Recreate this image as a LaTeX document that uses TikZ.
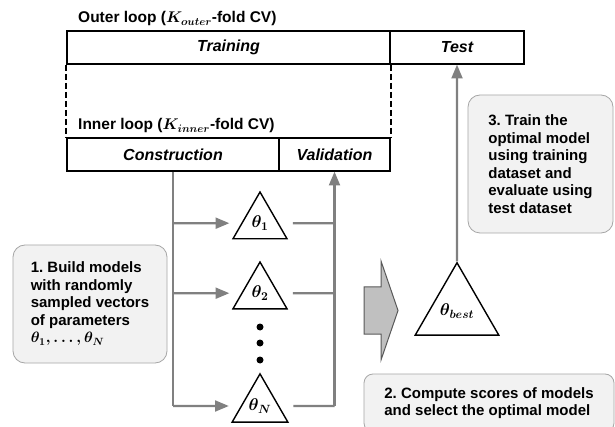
\documentclass[tikz,border=0pt]{standalone}
\usepackage{fix-cm}
\usepackage{amsmath}
\usepackage[no-math]{fontspec}
\setmainfont{Liberation Sans}
\usetikzlibrary{arrows,shapes.geometric}
\definecolor{CVGris}{RGB}{128,128,128}
\definecolor{CVFond}{RGB}{242,242,242}
\definecolor{CVBord}{RGB}{166,166,166}
\definecolor{CVFleche}{RGB}{192,192,192}
\frenchspacing

\begin{document}
\begin{tikzpicture}[x=1pt,y=-1pt,
	cell/.style={draw, line width=1.6pt, minimum height=33pt, inner sep=0pt, font=\fontsize{16}{18}\selectfont\bfseries\itshape},
	model/.style={draw, line width=1.4pt, regular polygon, regular polygon sides=3, inner sep=0pt, font=\fontsize{17}{20}\selectfont\boldmath},
	flow/.style={draw=CVGris, line width=2.2pt},
	note/.style={draw=CVBord, fill=CVFond, line width=0.8pt, rounded corners=12pt, align=left, font=\fontsize{15}{17.5}\selectfont\bfseries\boldmath},
	title/.style={anchor=base west, inner sep=0pt, font=\fontsize{15.5}{18}\selectfont\bfseries\boldmath},
	dot/.style={circle, fill=black, inner sep=0pt, minimum size=7pt}]
			\path[fill=white] (0,0) rectangle (615,427);
			\useasboundingbox (0,0) rectangle (615,427);
			\node[title] (outer) at (78,23) {Outer loop ($K_{outer}$-fold CV)};
			\node[cell, minimum width=323pt] (train) at (228.5,47.5) {Training};
			\node[cell, minimum width=134pt] (test) at (457,47.5) {Test};
			\node[title] (inner) at (78,130) {Inner loop ($K_{inner}$-fold CV)};
			\node[cell, minimum width=212pt] (constr) at (173,154.5) {Construction};
			\node[cell, minimum width=111pt] (valid) at (334.5,154.5) {Validation};
			\draw[line width=1.6pt, dash pattern=on 6pt off 3pt] (train.south west) -- (constr.north west);
			\draw[line width=1.6pt, dash pattern=on 6pt off 3pt] (train.south east) -- (valid.north east);
			\node[model, minimum size=62.4pt] (t1) at (260,223.2) {$\theta_1$};
			\node[model, minimum size=62.4pt] (t2) at (260,293.2) {$\theta_2$};
			\node[dot] (d1) at (260,327) {};
			\node[dot] (d2) at (260,343) {};
			\node[dot] (d3) at (260,360) {};
			\node[model, minimum size=62.4pt] (tN) at (260,406) {$\theta_N$};
			\draw[flow] (constr.south) -- (constr.south |- tN);
			\foreach \m in {t1,t2,tN}
				\draw[flow, -triangle 45, shorten >=12pt] (constr.south |- \m) -- (\m.west);
			\foreach \m in {t1,t2,tN}
				\draw[flow, shorten <=14pt] (\m.east) -- (valid.south |- \m);
			\draw[flow, -triangle 45] (valid.south |- tN) -- (valid.south);
			\draw[draw=black!65, fill=CVFleche, line width=1pt] (364,287) -- (381,287) -- (381,261) -- (398,310.5) -- (381,360) -- (381,334) -- (364,334) -- cycle;
			\node[model, minimum size=92.4pt] (best) at (457,311) {$\theta_{best}$};
			\draw[flow, -triangle 45] (best.north) -- (test.south);
			\node[note, minimum width=154pt, minimum height=118pt] (build) at (90,304) {1. Build models\\with randomly\\sampled vectors\\of parameters\\$\theta_1,\dots,\theta_N$};
			\node[note, minimum width=145pt, minimum height=138pt] (fit) at (540.5,164) {3. Train the\\optimal model\\using training\\dataset and\\evaluate using\\test dataset};
			\node[note, rounded corners=9pt, minimum width=250pt, minimum height=58pt] (score) at (489,403) {2. Compute scores of models\\and select the optimal model};
\end{tikzpicture}
\end{document}
